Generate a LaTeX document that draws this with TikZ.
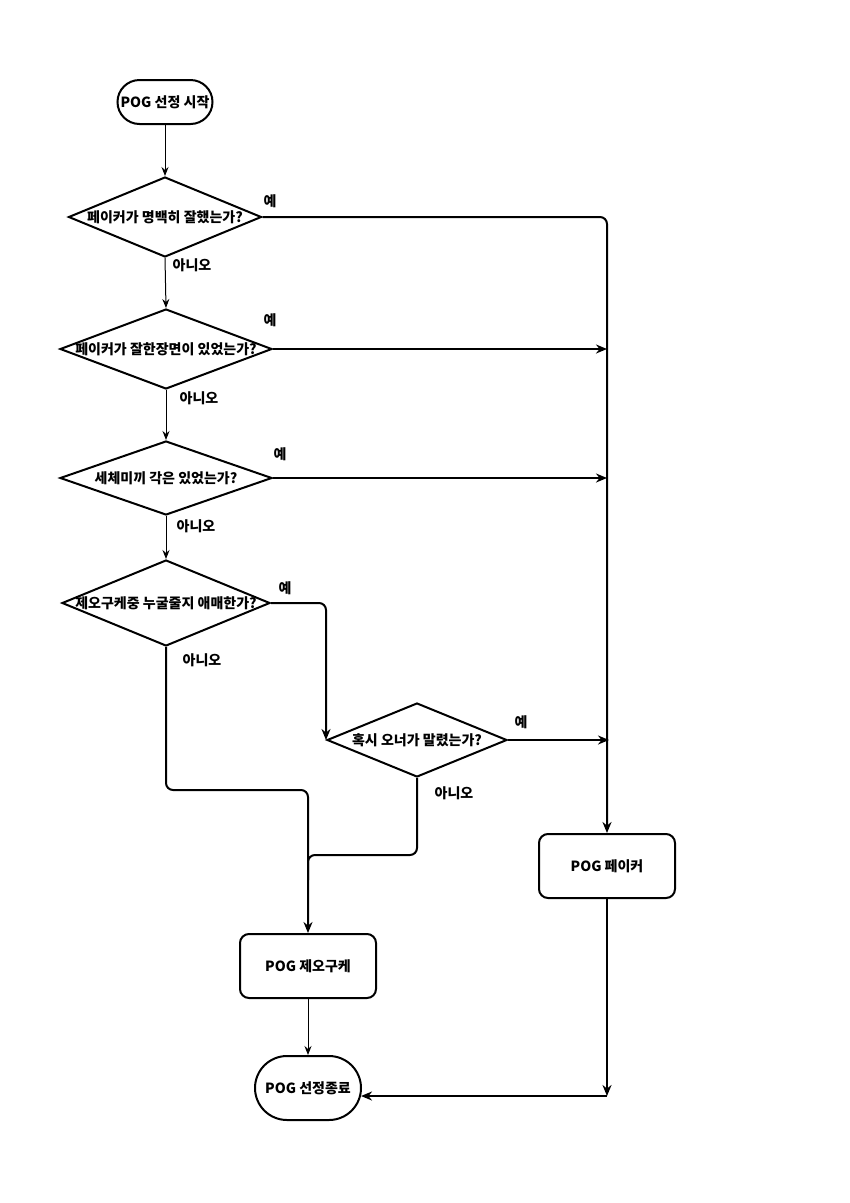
\documentclass[tikz,border=0pt]{standalone}
\usepackage{fontspec}
\setmainfont{Noto Sans CJK KR}
\usetikzlibrary{shapes.geometric,arrows.meta,calc}
\tikzset{
  txt/.style={font=\fontsize{14}{16}\selectfont\bfseries, inner sep=0pt},
  dia/.style={diamond, draw, line width=2pt, inner sep=0pt},
  term/.style={draw, line width=2pt, inner sep=0pt},
  proc/.style={draw, line width=2pt, rounded corners=9pt, minimum width=136pt, minimum height=64pt, inner sep=0pt},
  thin/.style={line width=1pt, -{Stealth[length=9pt,width=7pt,inset=3pt]}},
  thickar/.style={line width=2pt, rounded corners=7pt, -{Stealth[length=11pt,width=9pt,inset=3.5pt]}},
  thickln/.style={line width=2pt, rounded corners=7pt},
}
\begin{document}
\begin{tikzpicture}[x=1pt,y=-1pt]
\fill[white] (0,0) rectangle (850,1203);
\useasboundingbox (0,0) rectangle (850,1203);

% start
\node[term, rounded corners=22pt, minimum width=95pt, minimum height=44pt] (st) at (165,102) {};
\node[txt] (stt) at (st) {POG 선정 시작};

% diamonds
\node[dia, minimum width=193pt, minimum height=80pt] (d1) at (165,217) {};
\node[txt] (d1t) at (d1) {페이커가 명백히 잘했는가?};
\node[dia, minimum width=212pt, minimum height=80pt] (d2) at (166,349) {};
\node[txt] (d2t) at (d2) {페이커가 잘한장면이 있었는가?};
\node[dia, minimum width=212pt, minimum height=74pt] (d3) at (166,478) {};
\node[txt] (d3t) at (d3) {세체미끼 각은 있었는가?};
\node[dia, minimum width=208pt, minimum height=86pt] (d4) at (166,603) {};
\node[txt] (d4t) at (d4) {제오구케중 누굴줄지 애매한가?};
\node[dia, minimum width=180pt, minimum height=74pt] (d5) at (417,740) {};
\node[txt] (d5t) at (d5) {혹시 오너가 말렸는가?};

% process boxes
\node[proc] (pk) at (607,866) {};
\node[txt] (pkt) at (pk) {POG 페이커};
\node[proc] (zk) at (308,966) {};
\node[txt] (zkt) at (zk) {POG 제오구케};

% end
\node[term, rounded corners=32pt, minimum width=106pt, minimum height=64pt] (en) at (308,1088) {};
\node[txt] (ent) at (en) {POG 선정종료};

% helper coordinates
\coordinate (m1) at (zk.north |- 0,790);
\coordinate (m2) at (zk.north |- 0,855);
\coordinate (m3) at (zk.north |- 0,880);
\coordinate (c1) at (pk.south |- 0,1096);
\coordinate (c2) at ($(en.east |- c1)+(-1,0)$);

% vertical "no" chain
\draw[thin] (st.south) -- (d1.north);
\draw[thin] (d1.south) -- (d2.north);
\draw[thin] (d2.south) -- (d3.north);
\draw[thin] (d3.south) -- (d4.north);

% yes branches
\draw[thickar] (d1.east) -| (pk.north);
\draw[thickar] (d2.east) -- (d2.east -| pk.north);
\draw[thickar] (d3.east) -- (d3.east -| pk.north);
\draw[thickar] (d4.east) -| (d5.west);
\draw[thickar] (d5.east) -- ($(d5.east -| pk.north)+(2,0)$);

% no branches to 제오구케
\draw[thickar] (d4.south) |- (m1) -- (zk.north);
\draw[thickln] (d5.south) |- (m2) -- (m3);

% to end
\draw[thin] (zk.south) -- (en.north);
\draw[thickar] (pk.south) -- (c1);
\draw[thickar] (c1) -- (c2);

% labels
\node[txt] (y1) at (270,201) {예};
\node[txt] (n1) at (192,265) {아니오};
\node[txt] (y2) at (270,320) {예};
\node[txt] (n2) at (199,398) {아니오};
\node[txt] (y3) at (280,454) {예};
\node[txt] (n3) at (196,526) {아니오};
\node[txt] (y4) at (285,588) {예};
\node[txt] (n4) at (202,660) {아니오};
\node[txt] (y5) at (521,722) {예};
\node[txt] (n5) at (454,793) {아니오};
\end{tikzpicture}
\end{document}
